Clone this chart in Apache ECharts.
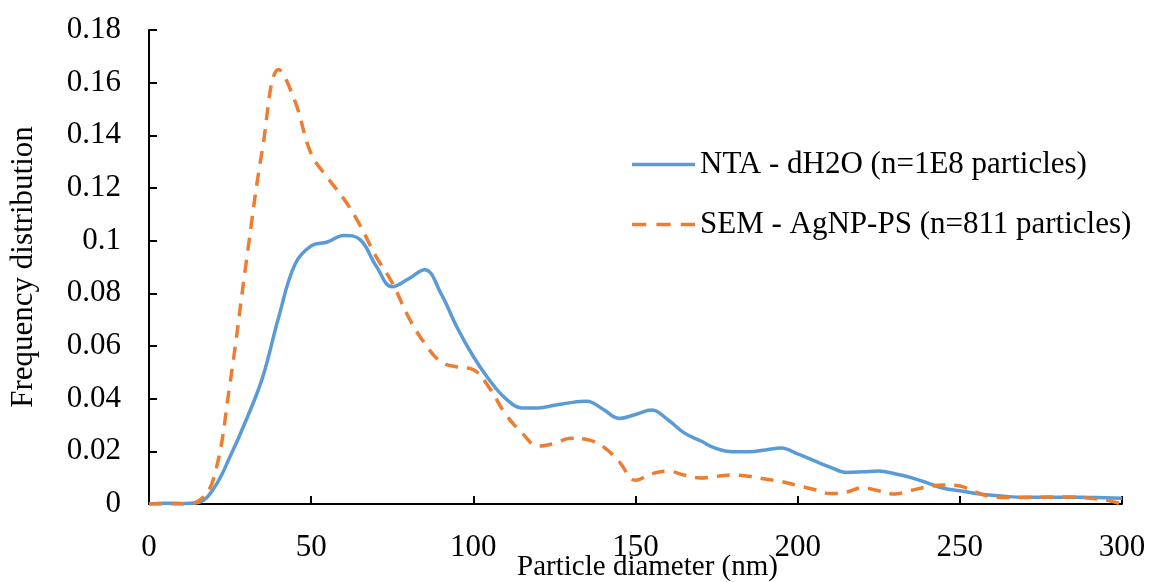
<!DOCTYPE html>
<html>
<head>
<meta charset="utf-8">
<script src="https://cdn.jsdelivr.net/npm/echarts@6/dist/echarts.min.js"></script>
<style>html,body{margin:0;padding:0;background:#fff}#c{width:1149px;height:582px}</style>
</head>
<body>
<div id="c"></div>
<script>
const ntaName = 'NTA - dH2O (n=1E8 particles)';
const semName = 'SEM - AgNP-PS (n=811 particles)';
const diameters = [0,5,10,15,20,25,30,35,40,45,50,55,60,65,70,75,80,85,90,95,100,105,110,115,120,125,130,135,140,145,150,155,160,165,170,175,180,185,190,195,200,205,210,215,220,225,230,235,240,245,250,255,260,265,270,275,280,285,290,295,300];
const ntaFreq = [0,0.0003,0.0002,0.0005,0.006,0.018,0.032,0.048,0.071,0.091,0.098,0.0995,0.102,0.1005,0.0905,0.0825,0.0855,0.089,0.08,0.067,0.056,0.047,0.040,0.0365,0.0365,0.0375,0.0385,0.039,0.036,0.0325,0.034,0.0357,0.032,0.027,0.024,0.021,0.0198,0.0198,0.0205,0.0213,0.019,0.0165,0.014,0.012,0.0122,0.0125,0.0115,0.010,0.008,0.006,0.005,0.004,0.0033,0.0028,0.0026,0.0026,0.0026,0.0026,0.0025,0.0024,0.0022];
const semFreq = [0,0,0,0.001,0.01,0.046,0.092,0.135,0.165,0.153,0.133,0.124,0.116,0.106,0.094,0.084,0.071,0.061,0.054,0.052,0.051,0.044,0.034,0.027,0.022,0.023,0.025,0.0245,0.0218,0.016,0.009,0.0115,0.0125,0.011,0.0099,0.0105,0.011,0.0105,0.0095,0.0085,0.007,0.0055,0.004,0.0045,0.0062,0.005,0.0038,0.0052,0.0065,0.0072,0.0068,0.0045,0.0027,0.0025,0.0025,0.0026,0.0027,0.0027,0.0022,0.0015,0];
const xTitle = 'Particle diameter (nm)';
const yTitle = 'Frequency distribution';

const font = 'Liberation Serif';
const chart = echarts.init(document.getElementById('c'));
chart.setOption({
  animation: false,
  textStyle: {fontFamily: font},
  grid: {left: 149, right: 27, top: 30, bottom: 78, containLabel: false, outerBoundsMode: 'none'},
  legend: {
    orient: 'vertical', left: 627, top: 144, itemGap: 29,
    itemWidth: 63, itemHeight: 14,
    textStyle: {fontFamily: font, fontSize: 31, color: '#000'},
    data: [
      {name: ntaName, icon: 'path://M0,5.5L63,5.5L63,9L0,9Z'},
      {name: semName, icon: 'path://M0,5.5L14,5.5L14,9L0,9ZM24,5.5L38,5.5L38,9L24,9ZM48,5.5L62,5.5L62,9L48,9Z'}
    ]
  },
  xAxis: {
    type: 'value', min: 0, max: 300, interval: 50,
    name: xTitle, nameLocation: 'middle', nameGap: 49, nameMoveOverlap: false,
    nameTextStyle: {fontFamily: font, fontSize: 29, color: '#000', padding: [0, 0, 0, 24]},
    axisLine: {lineStyle: {color: '#000', width: 2}},
    axisTick: {inside: true, length: 8, lineStyle: {color: '#000', width: 2}},
    axisLabel: {fontFamily: font, fontSize: 31, color: '#000', margin: 28},
    splitLine: {show: false}
  },
  yAxis: {
    type: 'value', min: 0, max: 0.18, interval: 0.02,
    name: yTitle, nameLocation: 'middle', nameGap: 110, nameRotate: 90, nameMoveOverlap: false,
    nameTextStyle: {fontFamily: font, fontSize: 31, color: '#000'},
    axisLine: {show: true, lineStyle: {color: '#000', width: 2}},
    axisTick: {show: true, inside: true, length: 8, lineStyle: {color: '#000', width: 2}},
    axisLabel: {fontFamily: font, fontSize: 31, color: '#000', margin: 28},
    splitLine: {show: false}
  },
  series: [
    {
      name: ntaName, type: 'line', smooth: 0.4, smoothConstraint: false, showSymbol: false,
      data: diameters.map((d, i) => [d, ntaFreq[i]]),
      lineStyle: {color: '#5B9BD5', width: 3.5},
      itemStyle: {color: '#5B9BD5'}
    },
    {
      name: semName, type: 'line', smooth: 0.4, smoothConstraint: false, showSymbol: false,
      data: diameters.map((d, i) => [d, semFreq[i]]),
      lineStyle: {color: '#ED7D31', width: 3.5, type: [13, 9]},
      itemStyle: {color: '#ED7D31'}
    }
  ]
});
</script>
</body>
</html>
